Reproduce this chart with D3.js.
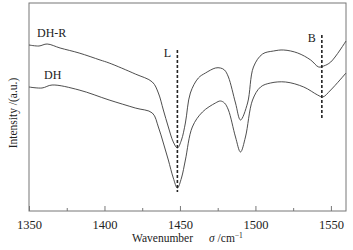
<!DOCTYPE html>
<html>
<head>
<meta charset="utf-8">
<script src="https://cdn.jsdelivr.net/npm/d3@7"></script>
<style>
body { margin: 0; background: #fff; }
text { font-family: "Liberation Serif", "Times New Roman", serif; fill: #222; }
</style>
</head>
<body>
<div id="chart"></div>
<script>
let width = 353
let height = 250
let margin = {top: 3, right: 7, bottom: 39, left: 29}

// wavenumber (cm-1) and intensity (a.u.)
let dhrWave = [1350, 1356.6, 1362, 1370.6, 1383.2, 1397.1, 1403.1, 1420.4, 1431.7, 1435.7, 1439, 1442.3, 1445.6, 1448.3, 1451, 1453.6, 1456.9, 1462.2, 1466.9, 1473.5, 1476.8, 1479.5, 1482.1, 1486.8, 1490.1, 1494.8, 1498.7, 1504.7, 1512, 1518.7, 1528, 1536.6, 1541.9, 1545.2, 1549.9, 1560]
let dhrValue = [166, 165, 167, 163, 158, 151, 148, 137, 129, 118, 101, 84, 69, 63, 71, 88, 118, 133, 138, 143, 143, 141, 134, 108, 91, 108, 144, 157, 160, 161, 158, 151, 144, 145, 149, 170]

let dhWave = [1350, 1358.6, 1365.3, 1383.2, 1403.1, 1420.4, 1431.7, 1435.7, 1439, 1442.3, 1445.6, 1448.3, 1451, 1453.6, 1458.2, 1464.9, 1473.5, 1476.8, 1479.5, 1482.1, 1486.8, 1490.1, 1493.4, 1498.1, 1503.4, 1510, 1520, 1532, 1541.2, 1544.6, 1549.9, 1560]
let dhValue = [124, 123, 126, 121, 111, 103, 98, 84, 68, 51, 33, 23, 33, 51, 84, 99, 108, 110, 108, 101, 74, 59, 74, 111, 124, 128, 129, 124, 116, 114, 121, 138]

let seriesNames = ['DH-R', 'DH']
let markerNames = ['L', 'B']
let markerWave = [1448.3, 1544]
let markerRange = [[19, 161], [93, 176]]

let xTicks = [1350, 1400, 1450, 1500, 1550]
let xMinorTicks = [1375, 1425, 1475, 1525]

let innerW = width - margin.left - margin.right
let innerH = height - margin.top - margin.bottom

let x = d3.scaleLinear().domain([1350, 1560]).range([margin.left, margin.left + innerW])
let y = d3.scaleLinear().domain([0, 208]).range([margin.top + innerH, margin.top])

const svg = d3.select('#chart')
	.append('svg')
	.attr('width', width)
	.attr('height', height)

// frame
svg.append('rect')
	.attr('x', margin.left)
	.attr('y', margin.top)
	.attr('width', innerW)
	.attr('height', innerH)
	.attr('fill', 'none')
	.attr('stroke', '#777')
	.attr('stroke-width', 1)

let xAxis = g => g.attr('transform', `translate(0,${margin.top + innerH})`)
	.call(d3.axisBottom(x).tickValues(xTicks).tickSizeInner(-5).tickSizeOuter(0).tickPadding(9).tickFormat(d3.format('d')))
	.call(g => g.select('.domain').remove())

let xMinor = g => g.attr('transform', `translate(0,${margin.top + innerH})`)
	.call(d3.axisBottom(x).tickValues(xMinorTicks).tickSize(-3).tickFormat(''))
	.call(g => g.select('.domain').remove())

svg.append('g').call(xAxis)
	.call(g => g.selectAll('line').attr('stroke', '#777'))
	.selectAll('text')
	.attr('font-size', 12.5)
	.attr('font-family', '"Liberation Serif", serif')
	.attr('fill', '#222')

svg.append('g').call(xMinor)
	.selectAll('line').attr('stroke', '#777')

let line = d3.line()
	.x(d => x(d[0]))
	.y(d => y(d[1]))
	.curve(d3.curveCatmullRom.alpha(0.5))

let series = [
	d3.zip(dhrWave, dhrValue),
	d3.zip(dhWave, dhValue)
]

svg.selectAll('.spectrum')
	.data(series)
	.enter()
	.append('path')
	.attr('class', 'spectrum')
	.attr('d', line)
	.attr('fill', 'none')
	.attr('stroke', '#3a3a3a')
	.attr('stroke-width', 0.9)

// dashed marker lines
markerWave.forEach((w, i) => {
	svg.append('line')
		.attr('x1', x(w)).attr('x2', x(w))
		.attr('y1', y(markerRange[i][1])).attr('y2', y(markerRange[i][0]))
		.attr('stroke', '#222')
		.attr('stroke-width', 1.6)
		.attr('stroke-dasharray', '3,2')
	svg.append('text')
		.attr('x', x(w) - 10)
		.attr('y', y(markerRange[i][1]) + 7)
		.attr('text-anchor', 'middle')
		.attr('font-size', 12)
		.text(markerNames[i])
})

// series labels
svg.append('text').attr('x', 37).attr('y', 37).attr('font-size', 12).text(seriesNames[0])
svg.append('text').attr('x', 44).attr('y', 79).attr('font-size', 12).text(seriesNames[1])

// axis titles
svg.append('text')
	.attr('transform', `translate(17,${margin.top + innerH / 2 + 6}) rotate(-90)`)
	.attr('text-anchor', 'middle')
	.attr('font-size', 11.5)
	.text('Intensity /(a.u.)')

let xt = svg.append('text')
	.attr('x', 132)
	.attr('y', 242)
	.attr('font-size', 11.5)
xt.append('tspan').text('Wavenumber')
xt.append('tspan').attr('dx', 16).attr('font-style', 'italic').text('σ')
xt.append('tspan').text(' /cm')
xt.append('tspan').attr('dy', -4).attr('font-size', 7.5).text('−1')
</script>
</body>
</html>
